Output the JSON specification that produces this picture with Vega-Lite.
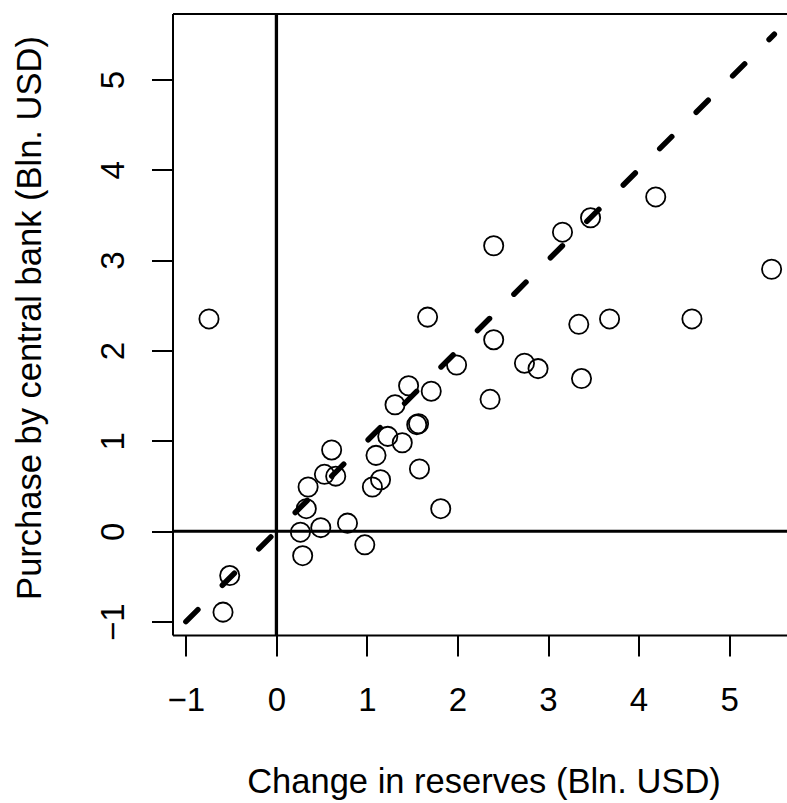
{
  "$schema": "https://vega.github.io/schema/vega-lite/v6.json",
  "width": 614.5,
  "height": 621.5,
  "autosize": {"type": "none"},
  "padding": {"left": 172.5, "top": 13.5, "right": 0, "bottom": 168},
  "background": "white",
  "config": {
    "view": {"stroke": null},
    "axis": {
      "grid": false,
      "domainColor": "black",
      "domainWidth": 2,
      "tickColor": "black",
      "tickWidth": 2,
      "tickSize": 21,
      "labelColor": "black",
      "titleColor": "black",
      "labelFont": "Liberation Sans",
      "titleFont": "Liberation Sans",
      "labelFontSize": 33,
      "titleFontSize": 34.5,
      "titleFontWeight": "normal"
    }
  },
  "datasets": {
    "points": [
      {"x": 4.19, "y": 3.70}, {"x": 3.47, "y": 3.47}, {"x": 3.16, "y": 3.31}, {"x": 2.40, "y": 3.16},
      {"x": 5.47, "y": 2.90}, {"x": 1.67, "y": 2.37}, {"x": 3.34, "y": 2.29}, {"x": 3.68, "y": 2.35},
      {"x": 4.59, "y": 2.35}, {"x": 2.40, "y": 2.12}, {"x": 1.99, "y": 1.84}, {"x": 2.74, "y": 1.86},
      {"x": 2.89, "y": 1.80}, {"x": 3.37, "y": 1.69}, {"x": 1.46, "y": 1.61}, {"x": 1.71, "y": 1.55},
      {"x": 2.36, "y": 1.46}, {"x": -0.745, "y": 2.35}, {"x": 1.31, "y": 1.40}, {"x": 1.55, "y": 1.18},
      {"x": 1.57, "y": 1.19}, {"x": 1.23, "y": 1.05}, {"x": 1.39, "y": 0.98}, {"x": 1.10, "y": 0.84},
      {"x": 1.58, "y": 0.69}, {"x": 1.15, "y": 0.57}, {"x": 1.06, "y": 0.49}, {"x": 0.61, "y": 0.90},
      {"x": 0.53, "y": 0.63}, {"x": 0.655, "y": 0.61}, {"x": 0.35, "y": 0.49}, {"x": 0.33, "y": 0.25},
      {"x": 1.815, "y": 0.25}, {"x": 0.785, "y": 0.09}, {"x": 0.49, "y": 0.04}, {"x": 0.265, "y": -0.01},
      {"x": 0.976, "y": -0.15}, {"x": 0.29, "y": -0.27}, {"x": -0.516, "y": -0.49}, {"x": -0.59, "y": -0.895}
    ],
    "diag": [
      {"x": -1, "y": -1},
      {"x": 5.5, "y": 5.5}
    ],
    "one": [{}]
  },
  "resolve": {"axis": {"x": "independent"}},
  "layer": [
    {
      "data": {"name": "one"},
      "mark": {"type": "rule", "color": "black", "strokeWidth": 3.3},
      "encoding": {"x": {"datum": 0, "type": "quantitative", "axis": null}}
    },
    {
      "data": {"name": "one"},
      "mark": {"type": "rule", "color": "black", "strokeWidth": 3},
      "encoding": {
        "y": {
          "datum": 0, "type": "quantitative",
          "axis": {
            "values": [-1, 0, 1, 2, 3, 4, 5],
            "format": "d",
            "labelAngle": -90,
            "labelAlign": "center",
            "labelBaseline": "alphabetic",
            "labelPadding": 28,
            "title": "Purchase by central bank (Bln. USD)",
            "titleBaseline": "alphabetic",
            "titleX": -132,
            "titleY": 304
          }
        }
      }
    },
    {
      "data": {"name": "points"},
      "mark": {"type": "point", "shape": "circle", "filled": false, "stroke": "black", "strokeWidth": 1.8, "size": 370, "opacity": 1},
      "encoding": {
        "x": {
          "field": "x", "type": "quantitative",
          "scale": {"domain": [-1.148, 5.64], "nice": false, "zero": false},
          "axis": {
            "orient": "bottom",
            "values": [-1, 0, 1, 2, 3, 4, 5],
            "format": "d",
            "labelBaseline": "alphabetic",
            "labelPadding": 54,
            "labelAlign": "center",
            "title": "Change in reserves (Bln. USD)",
            "titleBaseline": "alphabetic",
            "titleX": 311,
            "titleY": 157.7
          }
        },
        "y": {
          "field": "y", "type": "quantitative",
          "scale": {"domain": [-1.148, 5.73], "nice": false, "zero": false},
          "axis": {
            "values": [-1, 0, 1, 2, 3, 4, 5],
            "format": "d",
            "labelAngle": -90,
            "labelAlign": "center",
            "labelBaseline": "alphabetic",
            "labelPadding": 28,
            "title": "Purchase by central bank (Bln. USD)",
            "titleBaseline": "alphabetic",
            "titleX": -132,
            "titleY": 304
          }
        }
      }
    },
    {
      "data": {"name": "diag"},
      "mark": {"type": "line", "color": "black", "strokeWidth": 5.5, "strokeDash": [17, 34.5], "strokeCap": "round"},
      "encoding": {
        "x": {
          "field": "x", "type": "quantitative",
          "axis": {"orient": "top", "ticks": false, "labels": false, "title": null, "domain": true}
        },
        "y": {"field": "y", "type": "quantitative"}
      }
    }
  ]
}
